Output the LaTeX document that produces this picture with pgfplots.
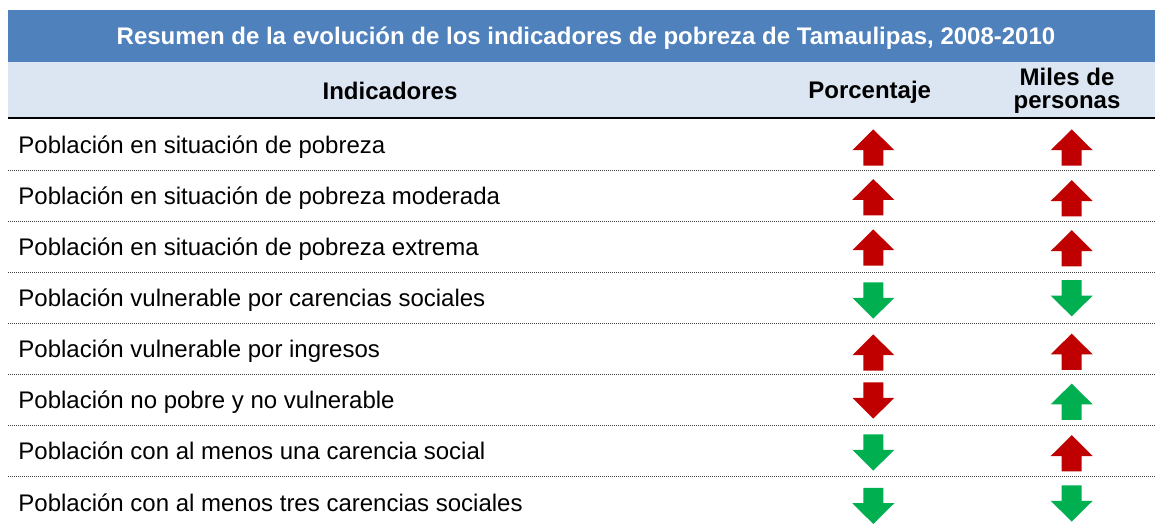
\documentclass[border=0pt]{standalone}
\usepackage{pgfplots}
\pgfplotsset{compat=1.18}
\usepackage{pgfplotstable}
\usepackage{fontspec}
\setmainfont{Liberation Sans}
\definecolor{titleblue}{HTML}{4F81BD}
\definecolor{headbg}{HTML}{DCE6F2}
\definecolor{arrred}{HTML}{C00000}
\definecolor{arrgreen}{HTML}{00B050}

\pgfdeclareplotmark{uparr}{%
  \pgfpathmoveto{\pgfqpoint{0pt}{9.05pt}}%
  \pgfpathlineto{\pgfqpoint{10.5pt}{-1.35pt}}%
  \pgfpathlineto{\pgfqpoint{5pt}{-1.35pt}}%
  \pgfpathlineto{\pgfqpoint{5pt}{-9.05pt}}%
  \pgfpathlineto{\pgfqpoint{-5pt}{-9.05pt}}%
  \pgfpathlineto{\pgfqpoint{-5pt}{-1.35pt}}%
  \pgfpathlineto{\pgfqpoint{-10.5pt}{-1.35pt}}%
  \pgfpathclose
  \pgfusepathqfill}
\pgfdeclareplotmark{downarr}{%
  \pgfpathmoveto{\pgfqpoint{0pt}{-9.05pt}}%
  \pgfpathlineto{\pgfqpoint{10.5pt}{1.35pt}}%
  \pgfpathlineto{\pgfqpoint{5pt}{1.35pt}}%
  \pgfpathlineto{\pgfqpoint{5pt}{9.05pt}}%
  \pgfpathlineto{\pgfqpoint{-5pt}{9.05pt}}%
  \pgfpathlineto{\pgfqpoint{-5pt}{1.35pt}}%
  \pgfpathlineto{\pgfqpoint{-10.5pt}{1.35pt}}%
  \pgfpathclose
  \pgfusepathqfill}

% x = column centre (px), y = row position (px, from top), cls = direction/colour
\pgfplotstableread{
x      y      cls
873.3  147.5  ur
1071.7 147.5  ur
873.3  197.2  ur
1071.7 198.3  ur
873.3  247.5  ur
1071.7 248.3  ur
873.3  300.5  dg
1071.7 298.3  dg
873.3  352.5  ur
1071.7 351.7  ur
873.3  400.5  dr
1071.7 401.7  ug
873.3  452.5  dg
1071.7 453.3  ur
873.3  505.9  dg
1071.7 503.5  dg
}\arrowdata

\begin{document}
\begin{tikzpicture}
\begin{axis}[
  width=577.5pt, height=261pt, scale only axis,
  xmin=0, xmax=1155, ymin=0, ymax=522, y dir=reverse,
  hide axis, clip=true,
]
\path (rel axis cs:0,0) rectangle (rel axis cs:1,1);
\fill[titleblue] (axis cs:8,10) rectangle (axis cs:1155,62.5);
\fill[headbg] (axis cs:8,62.5) rectangle (axis cs:1155,117.5);
\draw[line width=1pt, black] (axis cs:8,118.3) -- (axis cs:1155,118.3);
\pgfplotsinvokeforeach{170,221.1,272.2,323.3,374.4,425.5,476.6}{
  \draw[line width=0.5pt, black!75, dash pattern=on 0.5pt off 0.5pt] (axis cs:8,#1) -- (axis cs:1155,#1);
}
\node[anchor=base, inner sep=0, text=white, font=\fontsize{12pt}{14pt}\selectfont\bfseries] at (axis cs:586,45) {Resumen de la evolución de los indicadores de pobreza de Tamaulipas, 2008-2010};
\node[anchor=base, inner sep=0, font=\fontsize{12pt}{14pt}\selectfont\bfseries] at (axis cs:390,99) {Indicadores};
\node[anchor=base, inner sep=0, font=\fontsize{12pt}{14pt}\selectfont\bfseries] at (axis cs:869.7,98.3) {Porcentaje};
\node[anchor=base, inner sep=0, font=\fontsize{12pt}{14pt}\selectfont\bfseries] at (axis cs:1067,86) {Miles de};
\node[anchor=base, inner sep=0, font=\fontsize{12pt}{14pt}\selectfont\bfseries] at (axis cs:1067,108.3) {personas};
\node[anchor=base west, inner sep=0, font=\fontsize{12pt}{14pt}\selectfont] at (axis cs:18,153.3) {Población en situación de pobreza};
\node[anchor=base west, inner sep=0, font=\fontsize{12pt}{14pt}\selectfont] at (axis cs:18,204.4) {Población en situación de pobreza moderada};
\node[anchor=base west, inner sep=0, font=\fontsize{12pt}{14pt}\selectfont] at (axis cs:18,255.5) {Población en situación de pobreza extrema};
\node[anchor=base west, inner sep=0, font=\fontsize{12pt}{14pt}\selectfont] at (axis cs:18,306.6) {Población vulnerable por carencias sociales};
\node[anchor=base west, inner sep=0, font=\fontsize{12pt}{14pt}\selectfont] at (axis cs:18,357.7) {Población vulnerable por ingresos};
\node[anchor=base west, inner sep=0, font=\fontsize{12pt}{14pt}\selectfont] at (axis cs:18,408.8) {Población no pobre y no vulnerable};
\node[anchor=base west, inner sep=0, font=\fontsize{12pt}{14pt}\selectfont] at (axis cs:18,459.9) {Población con al menos una carencia social};
\node[anchor=base west, inner sep=0, font=\fontsize{12pt}{14pt}\selectfont] at (axis cs:18,511.0) {Población con al menos tres carencias sociales};
\addplot[scatter, only marks, point meta=explicit symbolic,
  scatter/classes={
    ur={mark=uparr, arrred},
    ug={mark=uparr, arrgreen},
    dr={mark=downarr, arrred},
    dg={mark=downarr, arrgreen}}]
  table[x=x, y=y, meta=cls] {\arrowdata};
\end{axis}
\end{tikzpicture}
\end{document}
